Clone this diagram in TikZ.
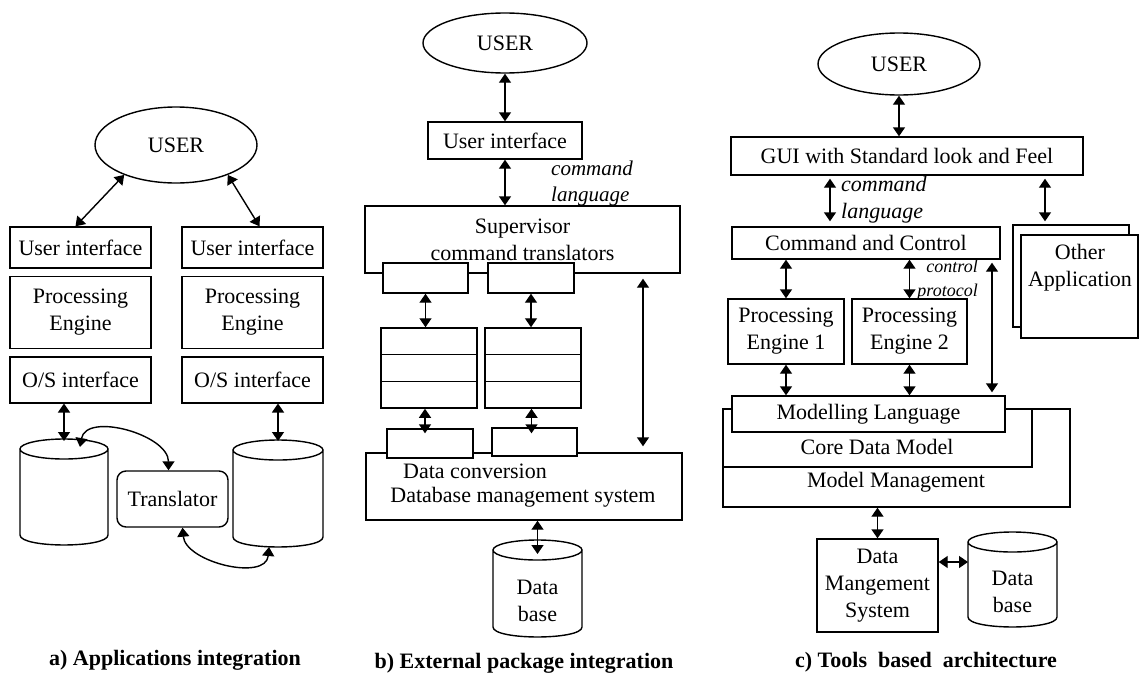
\documentclass[tikz,border=0pt]{standalone}
\usepackage{fontspec}
\setmainfont{Liberation Serif}
\usetikzlibrary{arrows.meta,positioning,shapes.geometric,calc}

% cylinder outline drawn round a named node
\newcommand\cylshape[1]{%
  \draw[line width=1.4pt] let \p1=(#1.north west), \p2=(#1.south east), \n1={(\x2-\x1)/2} in
    (\x1,\y1-10pt) -- (\x1,\y2+10pt) .. controls (\x1,\y2-3.3pt) and (\x2,\y2-3.3pt) .. (\x2,\y2+10pt) -- (\x2,\y1-10pt)
    (\x1+\n1*1pt,\y1-10pt) ellipse [x radius=\n1*1pt, y radius=10pt];}

\begin{document}
\begin{tikzpicture}[x=1pt,y=-1pt,
    font=\fontsize{22}{27}\selectfont,
    sz/.style 2 args={minimum width=#1pt, minimum height=#2pt},
    box/.style={draw, line width=1.4pt, fill=white, inner sep=0pt, align=center},
    user/.style={draw, ellipse, line width=1.4pt, inner sep=0pt},
    dbn/.style={inner sep=0pt, outer sep=0pt},
    txt/.style={inner sep=0pt, align=center},
    lbl/.style={font=\fontsize{21}{26}\selectfont\itshape, inner sep=0pt, align=left},
    capt/.style={font=\fontsize{22}{26}\selectfont\bfseries, inner sep=0pt},
    arr/.style={{Triangle[length=9pt,width=12pt]}-{Triangle[length=9pt,width=12pt]}, line width=1.4pt}
  ]
  \useasboundingbox (0,0) rectangle (1140,675);

  % a) applications integration
  \node[user, sz={162}{76}] (ua) at (176,145) {USER};
  \node[box, sz={141}{41}] (uia) at (80.5,247.5) {User interface};
  \node[box, sz={141}{72}, below=7pt of uia] (pea) {Processing\\Engine};
  \node[box, sz={141}{46}, below=7pt of pea] (osa) {O/S interface};
  \node[box, sz={141}{41}] (uib) at (252.5,247.5) {User interface};
  \node[box, sz={141}{72}, below=7pt of uib] (peb) {Processing\\Engine};
  \node[box, sz={141}{46}, below=7pt of peb] (osb) {O/S interface};
  \node[dbn, sz={88}{106}] (cyla) at (64,492) {};
  \node[dbn, sz={90}{107}] (cylb) at (278,493.5) {};
  \cylshape{cyla}
  \cylshape{cylb}
  \node[box, sz={111}{56}, rounded corners=9pt] (tr) at (172.5,499) {Translator};
  \draw[arr] (ua.210) -- ([xshift=-5pt]uia.north);
  \draw[arr] (ua.330) -- ([xshift=7pt]uib.north);
  \draw[arr] (cyla.north |- osa.south) -- ([yshift=-2pt]cyla.north);
  \draw[arr] (cylb.north |- osb.south) -- ([yshift=-1pt]cylb.north);
  \draw[arr] ([xshift=16pt,yshift=-8pt]cyla.north) to[out=80,in=90] ([xshift=-4pt]tr.north);
  \draw[arr] ([xshift=10pt]tr.south) to[out=-85,in=-95] ([xshift=-9pt]cylb.south);
  \node[capt] (capa) at (175,660) {a) Applications integration};

  % b) external package integration
  \node[user, sz={164}{60}] (ub) at (505,43) {USER};
  \node[box, sz={154}{37}] (uic) at (505,140.5) {User interface};
  \node[box, sz={315}{67}] (sup) at (522.5,239.5) {Supervisor\\command translators};
  \node[box, sz={85}{30}] (ta) at (425.5,278) {};
  \node[box, sz={86}{30}] (tb) at (531,278) {};
  \foreach \i/\y in {1/341.3,2/368,3/394.7}{
    \node[box, sz={96}{26.7}] (la\i) at (429,\y) {};
    \node[box, sz={96}{26.7}] (ra\i) at (533,\y) {};
  }
  \node[box, sz={316}{67}] (dbms) at (524,486.5) {};
  \node[box, sz={86}{29}] (ca) at (430,443.5) {};
  \node[box, sz={85}{28}] (cb) at (534.5,442) {};
  \node[txt, anchor=west] (dconv) at (403,471) {Data conversion};
  \node[txt] (dbmst) at (523,497) {Database management system};
  \node[dbn, sz={89}{97}] (dbb) at (537.5,588.5) {};
  \cylshape{dbb}
  \node[txt] (dbbt) at ([yshift=-12pt]dbb.center) {Data\\base};
  \node[lbl, anchor=west] (cmdb) at (551,183) {command\\language};
  \coordinate (lx) at (643,0);
  \draw[arr] (ub.south) -- (uic.north);
  \draw[arr] (uic.south) -- (uic.south |- sup.north);
  \draw[arr] (ta.south) -- (ta.south |- la1.north);
  \draw[arr] (tb.south) -- (tb.south |- ra1.north);
  \draw[arr] ([xshift=-5pt]ca.north |- la3.south) -- ([xshift=-5pt,yshift=-5pt]ca.north);
  \draw[arr] ([xshift=-3pt]cb.north |- ra3.south) -- ([xshift=-3pt,yshift=-6pt]cb.north);
  \draw[arr, shorten <=5pt, shorten >=6pt] (lx |- sup.south) -- (lx |- dbms.north);
  \draw[arr] (dbb.north |- dbms.south) -- ([yshift=-14pt]dbb.north);
  \node[capt] (capb) at (524,663) {b) External package integration};

  % c) tools based architecture
  \node[user, sz={162}{62}] (uc) at (899,64) {USER};
  \node[box, sz={352}{38}] (gui) at (907,156) {GUI with Standard look and Feel};
  \node[box, sz={268}{32}] (cc) at (866,243) {Command and Control};
  \node[box, sz={116}{102}] (oaa) at (1071,276) {};
  \node[box, sz={117}{103}] (oab) at (1079.5,286.5) {};
  \node[txt] (oat) at (1080,268) {Other\\Application};
  \node[box, sz={116}{65}] (pe1) at (786,331.5) {Processing\\Engine 1};
  \node[box, sz={115}{65}] (pe2) at (909.5,331.5) {Processing\\Engine 2};
  \node[box, sz={347}{98}] (mm) at (896.5,458) {};
  \node[box, sz={309}{58}] (cdm) at (877.5,438) {};
  \node[box, sz={273}{36}] (ml) at (868.5,414) {Modelling Language};
  \node[txt] (cdmt) at (877,447) {Core Data Model};
  \node[txt] (mmt) at (896,482) {Model Management};
  \node[box, sz={121}{93}] (dms) at (877.5,585.5) {Data\\Mangement\\System};
  \node[dbn, sz={89}{95}] (dbc) at (1012.5,579.5) {};
  \cylshape{dbc}
  \node[txt] (dbct) at ([yshift=-12pt]dbc.center) {Data\\base};
  \node[lbl, anchor=west, font=\fontsize{22}{27}\selectfont\itshape] (cmdc) at (841,199.5) {command\\language};
  \node[lbl, anchor=east, align=right, font=\fontsize{18}{24}\selectfont\itshape] (ctrl) at (978,280) {control\\protocol};
  \coordinate (gx) at (830,0);
  \coordinate (ox) at (1045,0);
  \coordinate (mx) at (992,0);
  \coordinate (hy) at (0,562);
  \draw[arr] (uc.south) -- (uc.south |- gui.north);
  \draw[arr, shorten <=3pt, shorten >=5pt] (gx |- gui.south) -- (gx |- cc.north);
  \draw[arr, shorten <=3pt, shorten >=3pt] (ox |- gui.south) -- (ox |- oaa.north);
  \draw[arr] (pe1.north |- cc.south) -- (pe1.north);
  \draw[arr] (pe2.north |- cc.south) -- (pe2.north);
  \draw[arr, shorten <=3pt, shorten >=3pt] (mx |- cc.south) -- (mx |- ml.north);
  \draw[arr] (pe1.south) -- (pe1.south |- ml.north);
  \draw[arr] (pe2.south) -- (pe2.south |- ml.north);
  \draw[arr] (dms.north |- mm.south) -- (dms.north);
  \draw[arr] (dms.east |- hy) -- (dbc.west |- hy);
  \node[capt] (capc) at (926,662) {c) Tools\ \ based\ \ architecture};
\end{tikzpicture}
\end{document}
